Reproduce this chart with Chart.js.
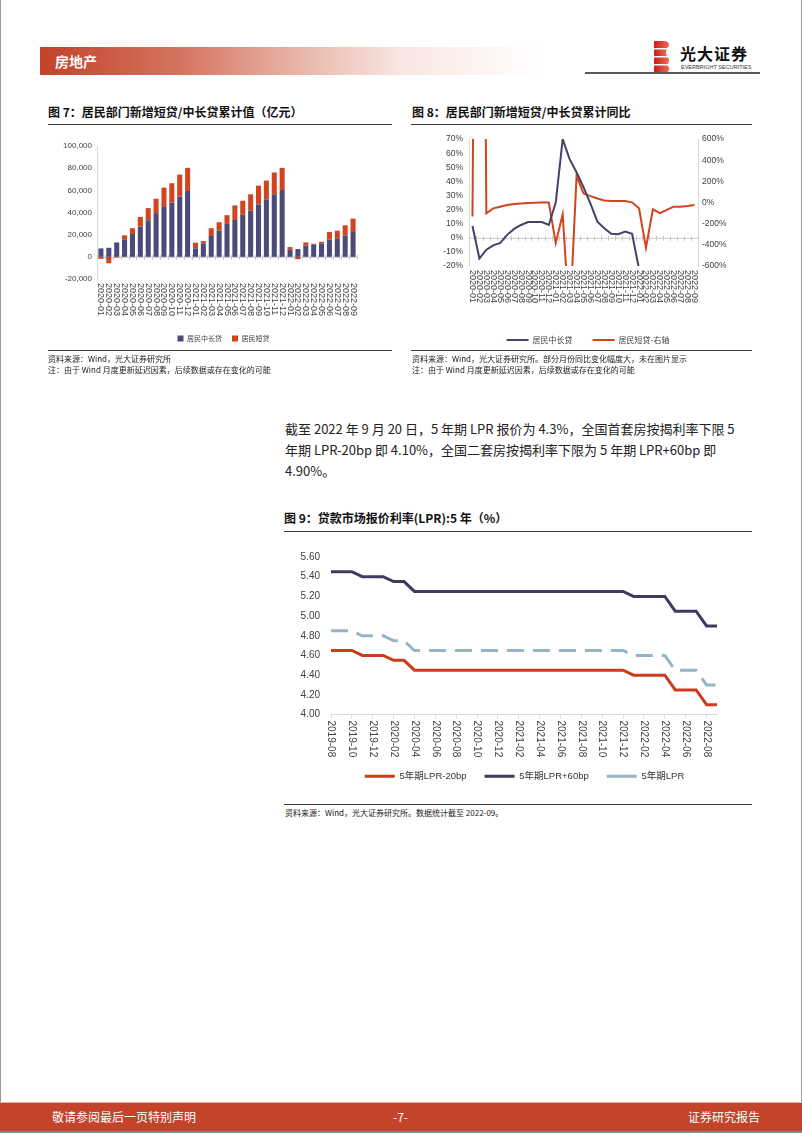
<!DOCTYPE html>
<html lang="zh-CN">
<head>
<meta charset="utf-8">
<title>房地产 - 图7 至 图9</title>
<script src="https://cdn.jsdelivr.net/npm/chart.js@4.4.1/dist/chart.umd.min.js"></script>
<style>
html, body { margin: 0; padding: 0; background: #fff; }
#page { position: relative; width: 802px; height: 1133px; overflow: hidden;
  font-family: "Noto Sans CJK SC", sans-serif; color: #1a1a1a; }
.abs { position: absolute; white-space: nowrap; }
.rule { position: absolute; height: 1px; background: #3a3a3a; }
.title { font-size: 12px; font-weight: bold; color: #111; line-height: 16px; }
.src { font-size: 8px; line-height: 11px; color: #222; }
canvas { position: absolute; }
</style>
</head>
<body>
<div id="page">
  <!-- page edges -->
  <div class="abs" style="left:0;top:0;width:1px;height:1133px;background:#9a9a9a"></div>
  <div class="abs" style="left:801px;top:0;width:1px;height:1133px;background:#9a9a9a"></div>

  <!-- header -->
  <div class="abs" style="left:40px;top:47px;width:500px;height:28px;
    background:linear-gradient(90deg,#c4412a 0%,#d5745f 28%,#e9b6aa 52%,#f8e6e1 72%,#fff 100%)"></div>
  <div class="abs" style="left:55px;top:47px;line-height:28px;font-size:14px;font-weight:bold;color:#fff">房地产</div>

  <svg class="abs" style="left:654px;top:41px" width="16" height="32" viewBox="0 0 16 32">
    <defs>
      <linearGradient id="lg" x1="0" y1="0" x2="1" y2="0">
        <stop offset="0" stop-color="#c81f16"/><stop offset="1" stop-color="#f06a55"/>
      </linearGradient>
    </defs>
    <path d="M0 0 H9 Q15 0 15 4 Q15 6 13 7 H0 Z" fill="url(#lg)"/>
    <path d="M0 8.5 H13 Q11 11 13 15 H0 Z" fill="url(#lg)"/>
    <path d="M0 16.5 H14 Q16 19 14 23 H0 Z" fill="url(#lg)"/>
    <path d="M0 24.5 H13 Q16 26 15 29 Q14 32 10 32 H0 Z" fill="url(#lg)"/>
  </svg>
  <div class="abs" style="left:680px;top:41px;font-size:16px;font-weight:bold;letter-spacing:1px;color:#111">光大证券</div>
  <div class="abs" style="left:681px;top:64px;font-size:6px;line-height:6px;color:#333;font-family:'Liberation Sans',sans-serif;transform:scale(0.92);transform-origin:left top">EVERBRIGHT SECURITIES</div>
  <div class="abs" style="left:585px;top:72px;width:175px;height:2px;background:#5a5a5a"></div>

  <!-- figure titles 7 / 8 -->
  <div class="abs title" style="left:48px;top:104px">图 7：居民部门新增短贷/中长贷累计值（亿元）</div>
  <div class="rule" style="left:48px;top:124px;width:344px"></div>
  <div class="abs title" style="left:412px;top:104px">图 8：居民部门新增短贷/中长贷累计同比</div>
  <div class="rule" style="left:411px;top:124px;width:341px"></div>

  <canvas id="c7" width="330" height="216" style="left:44px;top:136px"></canvas>
  <canvas id="c8" width="300" height="226" style="left:441px;top:128px"></canvas>

  <div class="rule" style="left:48px;top:350px;width:344px"></div>
  <div class="abs src" style="left:48px;top:353px">资料来源：Wind，光大证券研究所<br>注：由于 Wind 月度更新延迟因素，后续数据或存在变化的可能</div>
  <div class="rule" style="left:411px;top:350px;width:341px"></div>
  <div class="abs src" style="left:412px;top:353px">资料来源：Wind，光大证券研究所。部分月份同比变化幅度大，未在图片显示<br>注：由于 Wind 月度更新延迟因素，后续数据或存在变化的可能</div>

  <!-- paragraph -->
  <div class="abs" style="left:285px;top:418px;font-size:13px;line-height:21px;color:#222">截至 2022 年 9 月 20 日，5 年期 LPR 报价为 4.3%，全国首套房按揭利率下限 5<br>年期 LPR-20bp 即 4.10%，全国二套房按揭利率下限为 5 年期 LPR+60bp 即<br>4.90%。</div>

  <!-- figure 9 -->
  <div class="abs title" style="left:284px;top:510px">图 9：贷款市场报价利率(LPR):5 年（%）</div>
  <div class="rule" style="left:284px;top:531px;width:468px"></div>
  <canvas id="c9" width="468" height="251" style="left:284px;top:540px"></canvas>
  <div class="rule" style="left:284px;top:804px;width:468px"></div>
  <div class="abs src" style="left:285px;top:807px">资料来源：Wind，光大证券研究所。数据统计截至 2022-09。</div>

  <!-- footer -->
  <div class="abs" style="left:0;top:1102px;width:802px;height:1px;background:#eab3a6"></div>
  <div class="abs" style="left:0;top:1103px;width:802px;height:28px;background:#c4432b"></div>
  <div class="abs" style="left:0;top:1131px;width:802px;height:2px;background:#8a8a8a"></div>
  <div class="abs" style="left:52px;top:1103px;line-height:28px;font-size:12px;color:#fff">敬请参阅最后一页特别声明</div>
  <div class="abs" style="left:393px;top:1103px;line-height:28px;font-size:12px;color:#fff">-7-</div>
  <div class="abs" style="left:688px;top:1103px;line-height:28px;font-size:12px;color:#fff">证券研究报告</div>
</div>

<script>
// 图7/图8 的月份
const months = ['2020-01', '2020-02', '2020-03', '2020-04', '2020-05', '2020-06', '2020-07', '2020-08',
  '2020-09', '2020-10', '2020-11', '2020-12', '2021-01', '2021-02', '2021-03', '2021-04', '2021-05',
  '2021-06', '2021-07', '2021-08', '2021-09', '2021-10', '2021-11', '2021-12', '2022-01', '2022-02',
  '2022-03', '2022-04', '2022-05', '2022-06', '2022-07', '2022-08', '2022-09'];

// 图7：累计值（亿元）
const midLongLoan = [7600, 8200, 13000, 15800, 20600, 27300, 33000, 39400, 45000, 49000, 54500, 59400,
  7600, 12100, 18800, 23600, 29700, 33300, 37900, 41800, 47300, 51500, 56400, 60300,
  6400, 7000, 10000, 11200, 11800, 15500, 16700, 19100, 22400];
const shortLoan = [-1800, -5800, -600, 3600, 5200, 8700, 11000, 13000, 17400, 17400, 19700, 20900,
  5100, 2100, 7000, 7600, 7900, 13100, 12700, 14600, 16900, 17300, 19700, 20000,
  2400, -2100, 3000, 600, 1800, 6900, 6900, 9400, 12100];

// 图8：累计同比（%），超出坐标范围的点不显示
const midLongYoy = [8.4, -14.7, -8.4, -5.4, -3.7, 2.1, 6.3, 9.1, 11.2, 11.2, 11.2, 9.1,
  25, 70, 55.8, 46.5, 36, 24.3, 11.4, 6.8, 2.8, 2.6, 4.4, 2.8,
  -22, -42, -47, -52, -60, -53, -56, -54, -53];
const shortYoy = [-132, 9000, -101, -55, -39, -23, -14, -8, -5, -2, 0, 0,
  -382, -111, -1150, 251, 86, 61, 39, 20, 14, 14, 14, 2,
  -55, -428, -64, -101, -70, -39, -39, -33, -23];

// 图9：LPR
const lprMonths = ['2019-08', '2019-09', '2019-10', '2019-11', '2019-12', '2020-01', '2020-02', '2020-03',
  '2020-04', '2020-05', '2020-06', '2020-07', '2020-08', '2020-09', '2020-10', '2020-11', '2020-12',
  '2021-01', '2021-02', '2021-03', '2021-04', '2021-05', '2021-06', '2021-07', '2021-08', '2021-09',
  '2021-10', '2021-11', '2021-12', '2022-01', '2022-02', '2022-03', '2022-04', '2022-05', '2022-06',
  '2022-07', '2022-08', '2022-09'];
const lprMinus20 = [4.65, 4.65, 4.65, 4.60, 4.60, 4.60, 4.55, 4.55, 4.45, 4.45, 4.45, 4.45, 4.45,
  4.45, 4.45, 4.45, 4.45, 4.45, 4.45, 4.45, 4.45, 4.45, 4.45, 4.45, 4.45, 4.45, 4.45, 4.45, 4.45,
  4.40, 4.40, 4.40, 4.40, 4.25, 4.25, 4.25, 4.10, 4.10];
const lprPlus60 = [5.45, 5.45, 5.45, 5.40, 5.40, 5.40, 5.35, 5.35, 5.25, 5.25, 5.25, 5.25, 5.25,
  5.25, 5.25, 5.25, 5.25, 5.25, 5.25, 5.25, 5.25, 5.25, 5.25, 5.25, 5.25, 5.25, 5.25, 5.25, 5.25,
  5.20, 5.20, 5.20, 5.20, 5.05, 5.05, 5.05, 4.90, 4.90];
const lpr5y = [4.85, 4.85, 4.85, 4.80, 4.80, 4.80, 4.75, 4.75, 4.65, 4.65, 4.65, 4.65, 4.65,
  4.65, 4.65, 4.65, 4.65, 4.65, 4.65, 4.65, 4.65, 4.65, 4.65, 4.65, 4.65, 4.65, 4.65, 4.65, 4.65,
  4.60, 4.60, 4.60, 4.60, 4.45, 4.45, 4.45, 4.30, 4.30];

Chart.defaults.font.family = "'Liberation Sans', 'Noto Sans CJK SC', sans-serif";
Chart.defaults.color = '#404040';
Chart.defaults.animation = false;

const CN = "'Noto Sans CJK SC', sans-serif";
const HIDDEN = 'rgba(0,0,0,0)';

// x labels read top to bottom (Chart.js rotates the other way), so draw them here
const vertLabels = {
  id: 'vertLabels',
  afterDraw(chart, args, opts) {
    const sc = chart.scales.x;
    const ctx = chart.ctx;
    ctx.save();
    ctx.font = opts.font;
    ctx.fillStyle = opts.color;
    ctx.textAlign = 'left';
    ctx.textBaseline = 'middle';
    sc.ticks.forEach((t, i) => {
      if (t.label == null) return;
      ctx.save();
      ctx.translate(sc.getPixelForTick(i), sc.top + opts.gap);
      ctx.rotate(Math.PI / 2);
      ctx.fillText(t.label, 0, 0);
      ctx.restore();
    });
    ctx.restore();
  }
};

// horizontal axis crossing at 0 with small tick marks between categories
const zeroLine = {
  id: 'zeroLine',
  beforeDatasetsDraw(chart, args, opts) {
    const sc = chart.scales.x;
    const y = chart.scales.y.getPixelForValue(0);
    const n = sc.ticks.length;
    const step = sc.width / n;
    const ctx = chart.ctx;
    ctx.save();
    ctx.strokeStyle = opts.color;
    ctx.lineWidth = 1;
    ctx.beginPath();
    ctx.moveTo(chart.chartArea.left, y + 0.5);
    ctx.lineTo(chart.chartArea.right, y + 0.5);
    for (let i = 0; i <= n; i++) {
      const x = Math.round(sc.getPixelForTick(Math.min(i, n - 1)) + (i < n ? -step / 2 : step / 2)) + 0.5;
      ctx.moveTo(x, y - 2);
      ctx.lineTo(x, y + 3);
    }
    ctx.stroke();
    ctx.restore();
  }
};

// nudge the legend sideways (it is centred on the plot otherwise)
const legendShift = {
  id: 'legendShift',
  afterLayout(chart, args, opts) {
    if (!chart.legend || !opts.dx) return;
    chart.legend.left += opts.dx;
    chart.legend.right += opts.dx;
  }
};

// 图7
new Chart(document.getElementById('c7'), {
  type: 'bar',
  data: {
    labels: months,
    datasets: [
      { label: '居民中长贷', data: midLongLoan, backgroundColor: '#4b4a78', barPercentage: 0.64, categoryPercentage: 1 },
      { label: '居民短贷', data: shortLoan, backgroundColor: '#d2441f', barPercentage: 0.64, categoryPercentage: 1 },
    ],
  },
  options: {
    responsive: false,
    layout: { padding: { top: 10, right: 17, bottom: 0, left: 0 } },
    scales: {
      x: {
        stacked: true,
        grid: { display: false, drawTicks: false },
        border: { display: false },
        ticks: { autoSkip: false, minRotation: 90, maxRotation: 90, color: HIDDEN, font: { size: 9 } },
        afterFit: (s) => { s.height = 46; },
      },
      y: {
        stacked: true,
        min: -20000,
        max: 100000,
        grid: { display: false, drawTicks: false },
        border: { color: '#d9d9d9' },
        ticks: { stepSize: 20000, font: { size: 8 }, padding: 5, callback: (v) => v.toLocaleString('en-US') },
        afterFit: (s) => { s.width = 53; },
      },
    },
    plugins: {
      legend: {
        position: 'bottom',
        labels: { boxWidth: 6, boxHeight: 6, padding: 10, color: '#404040', font: { size: 7, family: CN } },
      },
      tooltip: { enabled: false },
      vertLabels: { font: "9px 'Liberation Sans'", color: '#404040', gap: 4 },
      zeroLine: { color: '#c8c8c8' },
      legendShift: { dx: 23 },
    },
  },
  plugins: [zeroLine, vertLabels, legendShift],
});

// 图8
new Chart(document.getElementById('c8'), {
  type: 'line',
  data: {
    labels: months,
    datasets: [
      { label: '居民中长贷', data: midLongYoy, borderColor: '#43426e', backgroundColor: '#43426e',
        borderWidth: 2, pointRadius: 0, tension: 0, yAxisID: 'y' },
      { label: '居民短贷-右轴', data: shortYoy, borderColor: '#d3441c', backgroundColor: '#d3441c',
        borderWidth: 2, pointRadius: 0, tension: 0, yAxisID: 'y1' },
    ],
  },
  options: {
    responsive: false,
    layout: { padding: { top: 10, right: 0, bottom: 0, left: 0 } },
    scales: {
      x: {
        offset: true,
        grid: { display: false, drawTicks: false },
        border: { display: false },
        ticks: { autoSkip: false, minRotation: 90, maxRotation: 90, color: HIDDEN, font: { size: 9 } },
        afterFit: (s) => { s.height = 50; },
      },
      y: {
        position: 'left',
        min: -20,
        max: 70,
        grid: { display: false, drawTicks: false },
        border: { color: '#d9d9d9' },
        ticks: { stepSize: 10, font: { size: 8.5 }, padding: 6, callback: (v) => v + '%' },
        afterFit: (s) => { s.width = 28; },
      },
      y1: {
        position: 'right',
        min: -600,
        max: 600,
        grid: { display: false, drawTicks: false },
        border: { color: '#d9d9d9' },
        ticks: { stepSize: 200, font: { size: 8.5 }, padding: 4, callback: (v) => v + '%' },
        afterFit: (s) => { s.width = 43; },
      },
    },
    plugins: {
      legend: {
        position: 'bottom',
        labels: { usePointStyle: true, pointStyle: 'line', pointStyleWidth: 22, padding: 20,
          color: '#404040', font: { size: 8, family: CN } },
      },
      tooltip: { enabled: false },
      vertLabels: { font: "9px 'Liberation Sans'", color: '#404040', gap: 4 },
      zeroLine: { color: '#c8c8c8' },
      legendShift: { dx: -3 },
    },
  },
  plugins: [zeroLine, vertLabels, legendShift],
});

// 图9
new Chart(document.getElementById('c9'), {
  type: 'line',
  data: {
    labels: lprMonths,
    datasets: [
      { label: '5年期LPR-20bp', data: lprMinus20, borderColor: '#cc3b1b', backgroundColor: '#cc3b1b',
        borderWidth: 3, pointRadius: 0, tension: 0 },
      { label: '5年期LPR+60bp', data: lprPlus60, borderColor: '#3d3c60', backgroundColor: '#3d3c60',
        borderWidth: 3, pointRadius: 0, tension: 0 },
      { label: '5年期LPR', data: lpr5y, borderColor: '#93b5c6', backgroundColor: '#93b5c6',
        borderWidth: 3, borderDash: [17, 9], pointRadius: 0, tension: 0 },
    ],
  },
  options: {
    responsive: false,
    layout: { padding: { top: 16, right: 35, bottom: 0, left: 0 } },
    scales: {
      x: {
        grid: { display: true, drawOnChartArea: false, drawTicks: true, tickLength: 4, color: '#d9d9d9' },
        border: { color: '#d9d9d9' },
        ticks: { autoSkip: false, minRotation: 90, maxRotation: 90, color: HIDDEN, font: { size: 10 },
          callback: (v, i) => (i % 2 === 0 ? lprMonths[i] : null) },
        afterFit: (s) => { s.height = 39; },
      },
      y: {
        min: 4,
        max: 5.6,
        grid: { display: false, drawTicks: false },
        border: { display: false },
        ticks: { stepSize: 0.2, font: { size: 10 }, padding: 11, callback: (v) => v.toFixed(2) },
        afterFit: (s) => { s.width = 47; },
      },
    },
    plugins: {
      legend: {
        position: 'bottom',
        labels: { usePointStyle: true, pointStyle: 'line', pointStyleWidth: 30, padding: 18,
          color: '#333', font: { size: 9.5 } },
      },
      tooltip: { enabled: false },
      vertLabels: { font: "10px 'Liberation Sans'", color: '#404040', gap: 6 },
      legendShift: { dx: 24 },
    },
  },
  plugins: [vertLabels, legendShift],
});
</script>
</body>
</html>
